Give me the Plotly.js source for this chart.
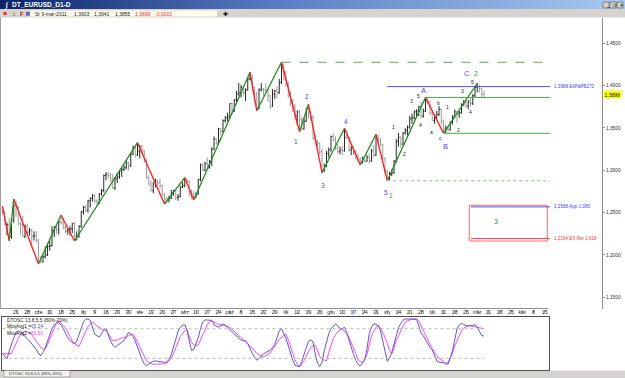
<!DOCTYPE html>
<html><head><meta charset="utf-8">
<script src="https://cdn.plot.ly/plotly-3.0.1.min.js"></script>
<style>html,body{margin:0;padding:0;background:#fff;overflow:hidden}#chart{width:625px;height:378px}</style>
</head><body><div id="chart"></div>
<script>
// ---------------- DATA ----------------
const symbolName = "DT_EURUSD_D1-D";
const lastDateText = "Sr 9-mar-2011";
const barOpen = [
1.2540,1.2510,1.2330,1.2360,1.2220,1.2410,1.2580,1.2560,1.2370,1.2360,
1.2220,1.2340,1.2270,1.2290,1.2220,1.2230,1.2170,1.1950,1.1920,1.1980,
1.2000,1.2100,1.2110,1.2290,1.2330,1.2300,1.2390,1.2380,1.2320,1.2280,
1.2300,1.2310,1.2370,1.2220,1.2230,1.2340,1.2510,1.2560,1.2530,1.2640,
1.2670,1.2700,1.2640,1.2620,1.2720,1.2760,1.2940,1.2950,1.2940,1.2900,
1.2790,1.2900,1.2920,1.2990,1.3010,1.3030,1.3080,1.3050,1.3190,1.3270,
1.3180,1.3220,1.3280,1.3230,1.3120,1.2910,1.2840,1.2760,1.2840,1.2860,
1.2850,1.2820,1.2710,1.2660,1.2650,1.2670,1.2740,1.2760,1.2680,1.2690,
1.2800,1.2820,1.2890,1.2870,1.2720,1.2720,1.2690,1.2720,1.2890,1.3060,
1.3000,1.3080,1.3060,1.3090,1.3250,1.3370,1.3320,1.3490,1.3460,1.3590,
1.3620,1.3630,1.3790,1.3700,1.3830,1.3900,1.3920,1.3980,1.3920,1.3950,
1.4080,1.4080,1.3980,1.3900,1.3730,1.3950,1.3960,1.3950,1.3940,1.3880,
1.3760,1.3900,1.3940,1.3920,1.4040,1.4220,1.4160,1.4030,1.3880,1.3790,
1.3760,1.3640,1.3690,1.3600,1.3490,1.3580,1.3720,1.3680,1.3630,1.3380,
1.3350,1.3320,1.3220,1.3000,1.3050,1.3200,1.3240,1.3400,1.3360,1.3260,
1.3220,1.3240,1.3230,1.3390,1.3380,1.3240,1.3270,1.3200,1.3160,1.3130,
1.3100,1.3120,1.3110,1.3150,1.3110,1.3230,1.3180,1.3380,1.3360,1.3300,
1.3140,1.2990,1.2910,1.2950,1.2970,1.3110,1.3340,1.3390,1.3310,1.3440,
1.3470,1.3510,1.3610,1.3620,1.3690,1.3700,1.3750,1.3640,1.3700,1.3820,
1.3810,1.3680,1.3590,1.3620,1.3660,1.3720,1.3580,1.3480,1.3500,1.3480,
1.3560,1.3630,1.3690,1.3670,1.3680,1.3780,1.3800,1.3760,1.3800,1.3790,
1.3880,1.3980,1.3990,1.3960,1.3903];
const barHigh = [
1.2578,1.2520,1.2380,1.2440,1.2440,1.2661,1.2640,1.2580,1.2390,1.2460,
1.2360,1.2370,1.2320,1.2310,1.2280,1.2280,1.2190,1.1990,1.2000,1.2100,
1.2140,1.2170,1.2340,1.2340,1.2350,1.2400,1.2473,1.2440,1.2350,1.2320,
1.2340,1.2380,1.2390,1.2280,1.2350,1.2520,1.2580,1.2590,1.2650,1.2680,
1.2720,1.2720,1.2660,1.2730,1.2780,1.2950,1.2980,1.2980,1.2970,1.2960,
1.2920,1.2970,1.3000,1.3030,1.3060,1.3120,1.3100,1.3200,1.3290,1.3300,
1.3326,1.3300,1.3300,1.3240,1.3130,1.2940,1.2880,1.2860,1.2900,1.2890,
1.2900,1.2830,1.2730,1.2690,1.2700,1.2770,1.2770,1.2770,1.2720,1.2820,
1.2860,1.2913,1.2900,1.2880,1.2770,1.2760,1.2740,1.2900,1.3080,1.3080,
1.3100,1.3150,1.3120,1.3270,1.3400,1.3380,1.3500,1.3500,1.3600,1.3640,
1.3680,1.3790,1.3800,1.3840,1.3940,1.4030,1.4010,1.3990,1.3970,1.4100,
1.4157,1.4130,1.3990,1.3930,1.3970,1.4030,1.3970,1.4030,1.3960,1.3890,
1.3960,1.3950,1.3990,1.4080,1.4276,1.4260,1.4170,1.4050,1.3930,1.3840,
1.3780,1.3710,1.3710,1.3630,1.3620,1.3740,1.3780,1.3700,1.3650,1.3420,
1.3360,1.3330,1.3250,1.3080,1.3230,1.3270,1.3410,1.3440,1.3400,1.3310,
1.3280,1.3290,1.3496,1.3470,1.3400,1.3290,1.3280,1.3240,1.3200,1.3150,
1.3160,1.3140,1.3180,1.3200,1.3250,1.3300,1.3425,1.3420,1.3380,1.3310,
1.3150,1.3010,1.2980,1.3010,1.3120,1.3370,1.3440,1.3400,1.3450,1.3500,
1.3530,1.3640,1.3670,1.3710,1.3720,1.3760,1.3810,1.3730,1.3860,1.3850,
1.3820,1.3710,1.3660,1.3700,1.3760,1.3730,1.3600,1.3530,1.3530,1.3580,
1.3650,1.3720,1.3700,1.3700,1.3790,1.3830,1.3840,1.3830,1.3850,1.3900,
1.3990,1.4028,1.4010,1.3970,1.3941];
const barLow = [
1.2480,1.2350,1.2235,1.2165,1.2190,1.2380,1.2450,1.2350,1.2240,1.2210,
1.2200,1.2230,1.2230,1.2110,1.2170,1.2140,1.1893,1.1900,1.1910,1.1960,
1.1990,1.2050,1.2100,1.2210,1.2250,1.2240,1.2360,1.2300,1.2260,1.2240,
1.2230,1.2260,1.2165,1.2170,1.2200,1.2320,1.2480,1.2510,1.2500,1.2560,
1.2630,1.2610,1.2580,1.2600,1.2700,1.2740,1.2880,1.2900,1.2860,1.2780,
1.2770,1.2850,1.2900,1.2920,1.2990,1.3010,1.3000,1.3040,1.3180,1.3150,
1.3170,1.3140,1.3200,1.3090,1.2900,1.2820,1.2750,1.2730,1.2800,1.2820,
1.2780,1.2690,1.2602,1.2610,1.2620,1.2660,1.2700,1.2650,1.2640,1.2680,
1.2790,1.2800,1.2840,1.2700,1.2660,1.2649,1.2670,1.2710,1.2870,1.2990,
1.2990,1.3010,1.3020,1.3050,1.3240,1.3300,1.3310,1.3420,1.3450,1.3560,
1.3580,1.3610,1.3660,1.3690,1.3800,1.3880,1.3860,1.3880,1.3820,1.3940,
1.4060,1.3930,1.3810,1.3704,1.3720,1.3930,1.3880,1.3920,1.3810,1.3720,
1.3750,1.3840,1.3850,1.3900,1.4020,1.4060,1.3990,1.3850,1.3760,1.3690,
1.3590,1.3530,1.3456,1.3470,1.3480,1.3570,1.3610,1.3590,1.3360,1.3300,
1.3280,1.3190,1.2972,1.2980,1.3040,1.3150,1.3220,1.3340,1.3240,1.3200,
1.3190,1.3180,1.3220,1.3370,1.3220,1.3180,1.3180,1.3130,1.3100,1.3063,
1.3080,1.3090,1.3100,1.3080,1.3100,1.3150,1.3170,1.3300,1.3280,1.3100,
1.2960,1.2877,1.2880,1.2930,1.2960,1.3090,1.3280,1.3270,1.3300,1.3420,
1.3410,1.3490,1.3550,1.3600,1.3630,1.3640,1.3610,1.3620,1.3690,1.3780,
1.3650,1.3580,1.3550,1.3600,1.3640,1.3540,1.3437,1.3440,1.3450,1.3470,
1.3540,1.3620,1.3560,1.3620,1.3670,1.3760,1.3740,1.3720,1.3760,1.3770,
1.3860,1.3920,1.3920,1.3860,1.3855];
const barClose = [
1.2510,1.2360,1.2360,1.2220,1.2410,1.2580,1.2560,1.2370,1.2360,1.2220,
1.2340,1.2270,1.2290,1.2220,1.2230,1.2170,1.1970,1.1920,1.1980,1.2000,
1.2100,1.2110,1.2290,1.2330,1.2300,1.2390,1.2380,1.2320,1.2280,1.2300,
1.2310,1.2370,1.2220,1.2230,1.2340,1.2510,1.2560,1.2530,1.2640,1.2670,
1.2700,1.2640,1.2620,1.2720,1.2760,1.2940,1.2950,1.2940,1.2900,1.2790,
1.2900,1.2920,1.2990,1.3010,1.3030,1.3080,1.3050,1.3190,1.3270,1.3180,
1.3220,1.3280,1.3230,1.3120,1.2910,1.2840,1.2760,1.2840,1.2860,1.2850,
1.2820,1.2710,1.2660,1.2650,1.2670,1.2740,1.2760,1.2680,1.2690,1.2800,
1.2820,1.2890,1.2870,1.2720,1.2720,1.2690,1.2720,1.2890,1.3060,1.3000,
1.3080,1.3060,1.3090,1.3250,1.3370,1.3320,1.3490,1.3460,1.3590,1.3620,
1.3630,1.3790,1.3700,1.3830,1.3900,1.3920,1.3980,1.3920,1.3950,1.4080,
1.4080,1.3980,1.3900,1.3730,1.3950,1.3960,1.3950,1.3940,1.3880,1.3760,
1.3900,1.3940,1.3920,1.4040,1.4220,1.4160,1.4030,1.3880,1.3790,1.3760,
1.3640,1.3690,1.3600,1.3490,1.3580,1.3720,1.3680,1.3630,1.3380,1.3350,
1.3320,1.3220,1.3000,1.3050,1.3200,1.3240,1.3400,1.3360,1.3260,1.3220,
1.3240,1.3230,1.3390,1.3380,1.3240,1.3270,1.3200,1.3160,1.3130,1.3100,
1.3120,1.3110,1.3150,1.3110,1.3230,1.3180,1.3380,1.3360,1.3300,1.3140,
1.2990,1.2910,1.2950,1.2970,1.3110,1.3340,1.3390,1.3310,1.3440,1.3470,
1.3510,1.3610,1.3620,1.3690,1.3700,1.3750,1.3640,1.3700,1.3820,1.3810,
1.3680,1.3590,1.3620,1.3660,1.3720,1.3580,1.3480,1.3500,1.3480,1.3560,
1.3630,1.3690,1.3670,1.3680,1.3780,1.3800,1.3760,1.3800,1.3790,1.3880,
1.3980,1.3990,1.3960,1.3902,1.3899];

// zigzag pivots (bar index) and their kind (H = high, L = low)
const zigzagIndex = [0,3,5,16,26,32,60,72,81,85,110,113,124,132,136,142,152,159,166,171,188,196,211];
const zigzagKind  = ["H","L","H","L","H","L","H","L","H","L","H","L","H","L","H","L","H","L","H","L","H","L","H"];

// target levels
const targetPrices = [1.3989, 1.2568, 1.2194];
const targetNotes  = ["EkPaPB272", "App 1,080", "EX Ret 1,618"];
const zoneTop = 1.2587, zoneBottom = 1.2165;

// date axis (one label per Friday)
const dateTickIndex = [6,11,16,21,26,31,36,41,46,51,56,61,66,71,76,81,86,91,96,101,106,111,116,121,126,131,136,141,146,151,156,161,166,171,176,181,186,191,196,201,206,211,216,221,226,231,236,241];
const dateTickText = ["21","28","cze","11","18","25","lip","9","16","23","30","sie","13","20","27","wrz","10","17","24","paź","8","15","22","29","lis","12","19","26","gru","10","17","24","31","sty","14","21","28","lut","11","18","25","mar","11","18","25","kwi","8","15"];
const priceTicks = [1.15,1.20,1.25,1.30,1.35,1.40,1.45];

// DTOSC oscillator
const oscFast = [
30,24,19,35,50,62,72,76,74,70,65,60,55,50,45,38,30,25,32,40,
55,68,80,88,92,92,88,80,70,62,56,52,49,55,68,82,94,99,100,97,
82,69,66,63,70,78,81,66,55,47,42,46,50,54,56,64,72,70,64,55,
42,29,18,9,5,8,12,14,15,14,13,12,12,12,18,28,42,58,74,83,
87,88,78,55,36,38,50,62,80,94,98,98,98,97,88,85,83,86,90,88,
83,79,74,69,65,61,57,56,56,50,38,30,22,16,20,25,29,32,34,36,
42,48,62,75,81,72,60,46,30,16,6,4,3,14,28,42,55,57,54,28,
10,3,12,35,55,70,80,86,90,86,80,80,83,72,56,42,28,16,8,5,
10,16,40,70,84,90,89,86,76,58,35,14,20,32,48,68,82,91,97,100,
100,100,100,100,99,86,72,66,57,48,42,37,26,15,12,12,11,9,8,20,
36,58,80,88,91,89,86,86,86,87,88,84,74,66,65.24];
const oscSlow = [
29,29,29,29,30,40,52,60,68,73,75,74,72,68,62,55,48,42,39,40,
48,60,72,84,92,95,92,86,82,73,64,56,50,46,44,54,66,75,84,90,
93,90,85,82,80,78,76,70,62,56,56,57,59,61,62,63,66,68,69,62,
52,42,32,22,15,11,9,8,8,8,8,8,9,10,14,20,30,42,54,64,
70,76,78,64,52,48,46,47,58,70,78,88,94,96,93,91,89,88,87,85,
84,83,79,74,70,66,62,58,54,50,46,42,36,30,27,25,23,25,28,31,
38,45,52,58,63,67,69,58,46,30,17,8,3,8,15,25,35,42,45,46,
35,24,18,16,15,32,48,60,68,74,78,79,75,70,62,52,43,30,18,13,
12,18,28,50,65,75,83,86,82,72,63,50,36,29,40,58,65,76,86,93,
96,98,100,100,100,96,86,76,67,58,49,40,32,25,20,16,14,10,12,20,
30,45,56,68,76,82,84,86,86,85,84,83,81,81,80.56];
const oscLevels = [80, 20];

// ---------------- GEOMETRY (screen layout) ----------------
const W = 625, H = 378;
const PX0 = 2.5, PXS = 2.25;             // bar index -> pixel
const idxAt = px => (px - PX0) / PXS;
const PY0 = 43.3, PYS = 846.7, PTOP = 1.45;  // price <-> pixel
const priceAt = py => PTOP - (py - PY0) / PYS;
const OY0 = 368.2, OYS = 0.493;          // oscillator value <-> pixel
const oscAt = py => (OY0 - py) / OYS;
const fx = px => px / W;
const fy = py => 1 - py / H;
const comma = (v, d) => v.toFixed(d).replace('.', ',');

const idx = barOpen.map((_, i) => i);
const last = barClose.length - 1;
const FONT = "Liberation Sans, Arial, sans-serif";

// zigzag legs
const upX = [], upY = [], dnX = [], dnY = [];
const pivotPrice = k => zigzagKind[k] === "H" ? barHigh[zigzagIndex[k]] : barLow[zigzagIndex[k]];
for (let k = 0; k < zigzagIndex.length - 1; k++) {
  const a = zigzagIndex[k], b = zigzagIndex[k + 1];
  const pa = pivotPrice(k), pb = pivotPrice(k + 1);
  if (pb > pa) { upX.push(a, b, null); upY.push(pa, pb, null); }
  else { dnX.push(a, b, null); dnY.push(pa, pb, null); }
}

const traces = [
  { type: "ohlc", x: idx, open: barOpen, high: barHigh, low: barLow, close: barClose,
    xaxis: "x", yaxis: "y", tickwidth: 0.45, hoverinfo: "skip",
    increasing: { line: { color: "#2a2a2a", width: 1 } },
    decreasing: { line: { color: "#9c9c9c", width: 1 } } },
  { type: "scatter", mode: "lines", x: upX, y: upY, xaxis: "x", yaxis: "y",
    line: { color: "#1f8f1f", width: 1.3 }, hoverinfo: "skip" },
  { type: "scatter", mode: "lines", x: dnX, y: dnY, xaxis: "x", yaxis: "y",
    line: { color: "#ff1a1a", width: 1.3 }, hoverinfo: "skip" },
  { type: "scatter", mode: "lines", x: idx, y: oscSlow, xaxis: "x2", yaxis: "y2",
    line: { color: "#ff44ff", width: 1 }, hoverinfo: "skip" },
  { type: "scatter", mode: "lines", x: idx, y: oscFast, xaxis: "x2", yaxis: "y2",
    line: { color: "#5a5ac8", width: 1 }, hoverinfo: "skip" }
];

const lineEndIdx = idxAt(550);
const shapes = [];
// window chrome
shapes.push({ type: "rect", xref: "paper", yref: "paper", x0: 0, x1: 1, y0: fy(17.5), y1: fy(9), fillcolor: "#d6d3ce", line: { width: 0 }, layer: "below" });
shapes.push({ type: "rect", xref: "paper", yref: "paper", x0: fx(30), x1: fx(217), y0: fy(16.5), y1: fy(10.5), fillcolor: "#fffff0", line: { width: 0 }, layer: "below" });
shapes.push({ type: "rect", xref: "paper", yref: "paper", x0: fx(3.5), x1: fx(6.5), y0: fy(15), y1: fy(12), fillcolor: "#ff2020", line: { width: 0 } });
shapes.push({ type: "rect", xref: "paper", yref: "paper", x0: 0, x1: 1, y0: 0, y1: fy(370.5), fillcolor: "#d6d3ce", line: { width: 0 }, layer: "below" });
shapes.push({ type: "rect", xref: "paper", yref: "paper", x0: fx(4), x1: fx(70), y0: fy(377), y1: fy(370.5), fillcolor: "#f4f3ee", line: { color: "#808080", width: 0.6 } });
[603, 610, 617].forEach(b => shapes.push({ type: "rect", xref: "paper", yref: "paper", x0: fx(b), x1: fx(b + 6), y0: fy(8), y1: fy(2), fillcolor: "#d4d0c8", line: { color: "#404040", width: 0.5 } }));
shapes.push({ type: "line", xref: "paper", yref: "paper", x0: 0, x1: fx(548.5), y0: fy(308.5), y1: fy(308.5), line: { color: "#909090", width: 1 } });
shapes.push({ type: "line", xref: "paper", yref: "paper", x0: fx(0.5), x1: fx(0.5), y0: fy(308.5), y1: fy(17.5), line: { color: "#a0a0a0", width: 1 } });
// horizontal levels from zigzag pivots
const lvl = (y, i0, color, dash, width) => shapes.push({ type: "line", xref: "x", yref: "y", x0: i0, x1: lineEndIdx, y0: y, y1: y, line: { color: color, width: width || 1, dash: dash || "solid" } });
lvl(pivotPrice(12), zigzagIndex[12], "#4caf4c", "dash");
lvl(pivotPrice(20), zigzagIndex[20], "#4caf4c");
lvl(pivotPrice(21), zigzagIndex[21], "#4caf4c");
lvl(pivotPrice(19), zigzagIndex[19], "#a8d8a8", "dot", 1.5);
lvl(targetPrices[0], zigzagIndex[19], "#5050ff");
// target zone box
shapes.push({ type: "rect", xref: "x", yref: "y", x0: idxAt(469.3), x1: idxAt(547.3), y0: zoneBottom, y1: zoneTop, line: { color: "#ff6a6a", width: 1 }, fillcolor: "rgba(0,0,0,0)" });
lvl(targetPrices[1], idxAt(471), "#5050ff");
lvl(targetPrices[2], idxAt(471), "#ff4040");
// oscillator levels
oscLevels.forEach(v => shapes.push({ type: "line", xref: "x2", yref: "y2", x0: 0, x1: last, y0: v, y1: v, line: { color: "#b8b89c", width: 1, dash: "dot" } }));

const annotations = [];
const pa = (px, py, text, size, color, opt) => annotations.push(Object.assign({ xref: "paper", yref: "paper", x: fx(px), y: fy(py), text: text, showarrow: false, xanchor: "left", yanchor: "middle", font: { family: FONT, size: size, color: color } }, opt || {}));
// title bar
pa(10, 4.6, "<b>" + symbolName + "</b>", 6.5, "#ffffff");
pa(2.5, 4.6, "<b>∫</b>", 6.5, "#ffffff");
pa(604, 4.8, "_", 5, "#000");
pa(611.3, 5, "□", 5, "#000");
pa(618.2, 5, "×", 5.5, "#000");
// info row
pa(11, 13.6, "L", 5.5, "#808040");
pa(17.5, 13.6, "<b>F</b>", 5.5, "#e00000");
pa(23.5, 13.6, "<b>R</b>", 5.5, "#1010a0");
pa(33, 13.6, lastDateText, 5, "#202020");
pa(71.5, 13.6, comma(barOpen[last], 4), 5, "#202020");
pa(91.5, 13.6, comma(barHigh[last], 4), 5, "#202020");
pa(112.5, 13.6, comma(barLow[last], 4), 5, "#202020");
pa(132.5, 13.6, comma(barClose[last], 4), 5, "#ff2020");
pa(152.5, 13.6, comma(barClose[last] - barClose[last - 1], 4), 5, "#ff2020");
pa(220.5, 13.6, "✚", 6, "#000");
// price tag
annotations.push({ xref: "paper", yref: "y", x: fx(603), y: barClose[last], text: comma(barClose[last], 4), showarrow: false, xanchor: "left", yanchor: "middle", bgcolor: "#ffff00", borderpad: 0.5, font: { family: FONT, size: 5, color: "#000" } });
// target labels
const tcol = ["#4040ff", "#4040ff", "#ff3030"];
targetPrices.forEach((p, k) => annotations.push({ xref: "paper", yref: "y", x: fx(552), y: p, text: comma(p, 4) + " " + targetNotes[k], showarrow: false, xanchor: "left", yanchor: "middle", font: { family: FONT, size: 4.6, color: tcol[k] } }));
// wave labels (data coords)
const wl = (px, py, t, size, color) => annotations.push({ xref: "x", yref: "y", x: idxAt(px), y: priceAt(py), text: t, showarrow: false, xanchor: "center", yanchor: "middle", font: { family: FONT, size: size, color: color } });
const B = "#4848ff", G = "#2a9a2a", K = "#202020";
wl(296.3, 141.7, "1", 6.5, B); wl(307.3, 96.7, "2", 6.5, B); wl(323.3, 185, "3", 6.5, B);
wl(345.7, 121.7, "4", 6.5, B); wl(386, 192.7, "5", 6.5, B); wl(391, 195.7, "1", 6.5, G);
wl(423, 90.5, "A", 7.5, B); wl(445, 146, "B", 7.5, B); wl(466.7, 73.3, "C", 7.5, B); wl(476.3, 73.3, "2", 7, G);
wl(496, 221.7, "3", 7, G);
wl(393.3, 126.7, "1", 5, K); wl(404.3, 154.3, "2", 5, K); wl(411.7, 101, "3", 5, K); wl(420.7, 125.3, "4", 5, K); wl(418.8, 96, "5", 5, K);
wl(431.7, 132, "a", 5, K); wl(438.3, 102.7, "b", 5, K); wl(440, 138.3, "c", 5, K);
wl(447.3, 106.7, "1", 5, K); wl(458.3, 130, "2", 5, K); wl(462.7, 90.7, "3", 5, K); wl(470, 112.3, "4", 5, K); wl(472, 81.7, "5", 5, K);
// oscillator texts
pa(5, 320.3, "DTOSC 13,8,5,5 (80%-20%)", 4.8, "#202020");
pa(5, 326.8, "MovAvg1 =<span style='color:#5a5ac8'>" + comma(oscFast[last], 2) + "</span>", 4.8, "#202020");
pa(5, 333.3, "MovAvg2 =<span style='color:#ff44ff'>" + comma(oscSlow[last], 2) + "</span>", 4.8, "#202020");
pa(6.5, 373.8, "DTOSC 13,8,5,5 (80%-20%)", 4.2, "#303030");

const gradSvg = "<svg xmlns='http://www.w3.org/2000/svg' width='625' height='9'><defs><linearGradient id='g' x1='0' x2='1' y1='0' y2='0'><stop offset='0' stop-color='#0a246a'/><stop offset='0.45' stop-color='#5a7ec4'/><stop offset='1' stop-color='#a6caf0'/></linearGradient></defs><rect width='625' height='9' fill='url(#g)'/></svg>";

const layout = {
  width: W, height: H, autosize: false, showlegend: false, hovermode: false,
  margin: { l: 0, r: 0, t: 0, b: 0, pad: 0 },
  paper_bgcolor: "#ffffff", plot_bgcolor: "#ffffff",
  separators: ",.",
  font: { family: FONT, size: 6, color: "#202020" },
  xaxis: { domain: [fx(1), fx(601.5)], range: [idxAt(1), idxAt(601.5)], anchor: "y",
    tickvals: dateTickIndex, ticktext: dateTickText, ticks: "outside", ticklen: 3, tickwidth: 0.7, tickcolor: "#707070",
    ticklabelstandoff: -5,
    tickfont: { family: FONT, size: 5.2, color: "#202020" }, showline: false, showgrid: false, zeroline: false,
    rangeslider: { visible: false }, fixedrange: true, tickangle: 0 },
  yaxis: { domain: [fy(308.5), fy(17.5)], range: [priceAt(308.5), priceAt(17.5)], anchor: "x", side: "right",
    tickvals: priceTicks, tickformat: ".4f", ticks: "outside", ticklen: 2.5, tickwidth: 0.7, tickcolor: "#606060",
    tickfont: { family: FONT, size: 4.8, color: "#303030" }, showline: true, linecolor: "#8c8c8c", linewidth: 1,
    showgrid: false, zeroline: false, fixedrange: true },
  xaxis2: { domain: [fx(2), fx(549)], range: [idxAt(2), idxAt(549)], anchor: "y2", showticklabels: false, ticks: "",
    showline: true, mirror: true, linecolor: "#505050", linewidth: 1, showgrid: false, zeroline: false, fixedrange: true },
  yaxis2: { domain: [fy(369.5), fy(316.8)], range: [oscAt(369.5), oscAt(316.8)], anchor: "x2", showticklabels: false, ticks: "",
    showline: true, mirror: true, linecolor: "#505050", linewidth: 1, showgrid: false, zeroline: false, fixedrange: true },
  shapes: shapes, annotations: annotations,
  images: [{ source: "data:image/svg+xml;charset=utf-8," + encodeURIComponent(gradSvg), xref: "paper", yref: "paper",
    x: 0, y: 1, sizex: 1, sizey: 9 / H, xanchor: "left", yanchor: "top", sizing: "stretch", layer: "below" }]
};

Plotly.newPlot("chart", traces, layout, { staticPlot: true, displayModeBar: false });
</script>
</body></html>
